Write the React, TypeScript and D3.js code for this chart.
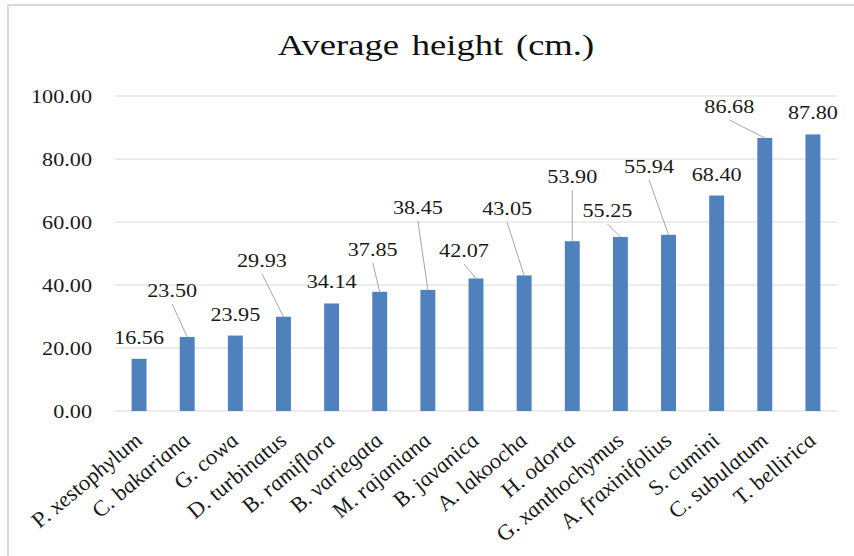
import React from "react";
import * as d3 from "d3";

const species = [
  "P. xestophylum", "C. bakariana", "G. cowa", "D. turbinatus", "B. ramiflora",
  "B. variegata", "M. rajaniana", "B. javanica", "A. lakoocha", "H. odorta",
  "G. xanthochymus", "A. fraxinifolius", "S. cumini", "C. subulatum", "T. bellirica",
];
const heights = [16.56, 23.5, 23.95, 29.93, 34.14, 37.85, 38.45, 42.07, 43.05, 53.9, 55.25, 55.94, 68.4, 86.68, 87.8];
const yTicks = [0, 20, 40, 60, 80, 100];
const title = "Average height (cm.)";

// label placement (dx from bar centre, dy from bar top); null = default above bar
const labelShift: ([number, number] | null)[] = [
  null, [-15, -40], null, [-21.5, -50], null, [-7, -36], [-10, -76], [-12, -21.5],
  [-17, -60], [0, -58], [-13, -20], [-19.5, -62], null, [-35.5, -25], null,
];

const W = 854, H = 556;
const M = { left: 115, right: 17, top: 96, bottom: 145 };
const SX = 1.2;
const FONT = "'Liberation Serif', 'Times New Roman', Times, serif";

export default function App() {
  const x = d3.scaleBand<string>().domain(species)
    .range([M.left, W - M.right]).paddingInner(0.69).paddingOuter(0.345);
  const y = d3.scaleLinear().domain([0, 100]).range([H - M.bottom, M.top]);
  const bw = x.bandwidth();

  return (
    <svg width={W} height={H} style={{ position: "absolute", left: 0, top: 0, background: "#fff" }}>
      <rect x={8} y={5} width={W + 20} height={H + 20} fill="#fff" stroke="#d9d9d9" strokeWidth={2} />
      <text transform={`translate(436,55) scale(${SX},1)`} textAnchor="middle"
        fontFamily={FONT} fontSize={30.5} fill="#111" style={{ wordSpacing: "3px" }}>{title}</text>
      {yTicks.map((t) => (
        <g key={t}>
          <line x1={M.left} x2={W - M.right} y1={y(t)} y2={y(t)} stroke="#d9d9d9" strokeWidth={1.2} />
          <text transform={`translate(92,${y(t) + 6.5}) scale(${SX},1)`} textAnchor="end"
            fontFamily={FONT} fontSize={18.5} fill="#1a1a1a">{t.toFixed(2)}</text>
        </g>
      ))}
      {species.map((s, i) => {
        const cx = (x(s) as number) + bw / 2;
        const top = y(heights[i]);
        const sh = labelShift[i];
        const lx = cx + (sh ? sh[0] : 0);
        const ly = top + (sh ? sh[1] : -15);
        return (
          <g key={s}>
            <rect x={x(s)} y={top} width={bw} height={y(0) - top} fill="#4f81bd" />
            {sh && (
              <line x1={lx} y1={ly + 7} x2={cx} y2={top} stroke="#a6a6a6" strokeWidth={1} />
            )}
            <text transform={`translate(${lx},${ly}) scale(${SX},1)`} textAnchor="middle"
              fontFamily={FONT} fontSize={18.5} fill="#1a1a1a">{heights[i].toFixed(2)}</text>
            <text transform={`translate(${cx + 5},${442}) scale(${SX},1) rotate(-45)`} textAnchor="end"
              fontFamily={FONT} fontStyle="italic" fontSize={20.5} fill="#1a1a1a">{s}</text>
          </g>
        );
      })}
    </svg>
  );
}
